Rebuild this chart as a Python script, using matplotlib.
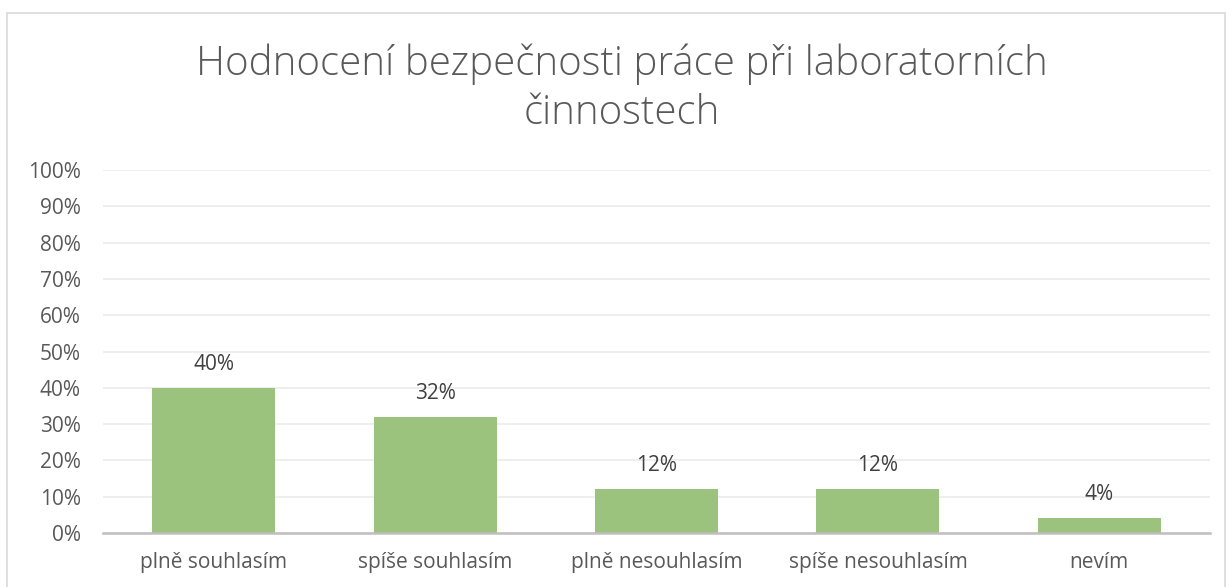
import matplotlib
matplotlib.use('Agg')
from matplotlib import pyplot as plt
from matplotlib.patches import Rectangle

# data
categories = ['plně souhlasím', 'spíše souhlasím', 'plně nesouhlasím', 'spíše nesouhlasím', 'nevím']
values = [40, 32, 12, 12, 4]
title_lines = ['Hodnocení bezpečnosti práce při laboratorních', 'činnostech']

plt.rcParams['font.family'] = ['Open Sans', 'DejaVu Sans']
text_color = '#595959'

W, H = 1228, 587
fig = plt.figure(figsize=(W / 100, H / 100), dpi=100)
fig.patch.set_facecolor('white')

# outer chart border
fig.patches.append(Rectangle((7 / W, -0.05), (1218 / W), 1 - 13 / H + 0.05,
                             transform=fig.transFigure, fill=False,
                             edgecolor='#D9D9D9', linewidth=1.2))

ax = fig.add_axes([103 / W, (H - 533) / H, (1210 - 103) / W, (533 - 170) / H])
x = range(len(categories))
ax.bar(x, values, width=0.556, color='#9BC37D', zorder=3)
for xi, v in zip(x, values):
    ax.text(xi, v + 3.6, f'{v}%', ha='center', va='bottom', fontsize=15, color='#404040')

ax.set_xlim(-0.5, len(categories) - 0.5)
ax.set_ylim(0, 100)
ax.set_yticks(range(0, 101, 10))
ax.set_yticklabels([f'{t}%' for t in range(0, 101, 10)])
ax.set_xticks(list(x))
ax.set_xticklabels(categories)
ax.tick_params(axis='both', length=0, labelsize=15, colors=text_color)
ax.tick_params(axis='x', pad=14)
ax.tick_params(axis='y', pad=16)
ax.grid(axis='y', color='#EBEBEB', linewidth=1.2, zorder=0)
for s in ['top', 'right', 'left']:
    ax.spines[s].set_visible(False)
ax.spines['bottom'].set_color('#BFBFBF')
ax.spines['bottom'].set_linewidth(1.8)
ax.spines['bottom'].set_zorder(4)

fig.text(622 / W, 1 - 64 / H, title_lines[0], ha='center', va='center', fontsize=29,
         fontweight='light', color=text_color)
fig.text(622 / W, 1 - 114 / H, title_lines[1], ha='center', va='center', fontsize=29,
         fontweight='light', color=text_color)

plt.savefig('out.png', dpi=100)
